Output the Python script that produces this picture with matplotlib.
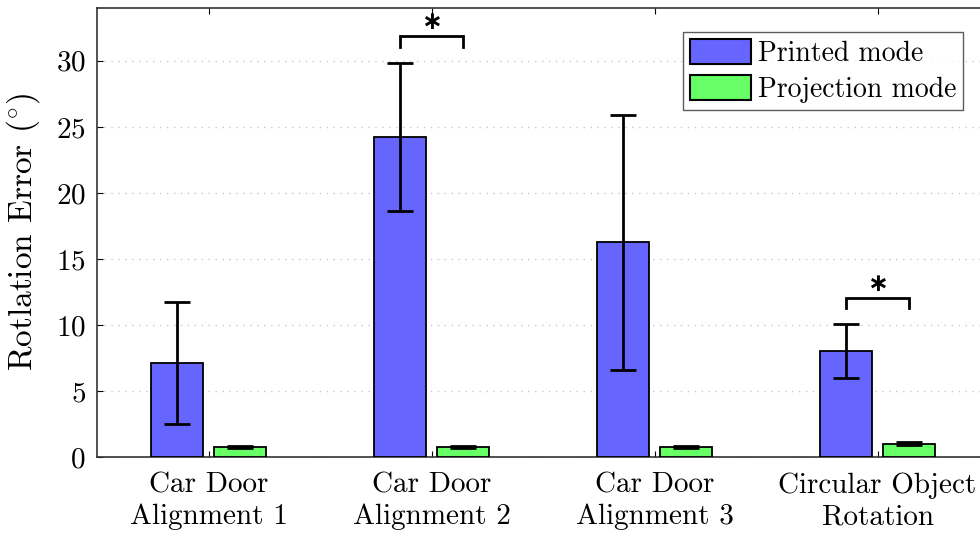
import matplotlib
matplotlib.use("Agg")
import matplotlib.pyplot as plt
import numpy as np

categories = ["Car Door\nAlignment 1", "Car Door\nAlignment 2", "Car Door\nAlignment 3", "Circular Object\nRotation"]
printed_mean = [7.1, 24.2, 16.25, 8.0]
printed_err = [4.6, 5.6, 9.65, 2.05]
projection_mean = [0.75, 0.75, 0.77, 1.02]
projection_err = [0.1, 0.08, 0.1, 0.1]
series_names = ["Printed mode", "Projection mode"]
# significance brackets: (group index, bracket height)
sig_groups = [1, 3]
sig_bracket_y = [31.85, 12.07]

plt.rcParams['font.family'] = ['cmr10', 'DejaVu Serif']
plt.rcParams['mathtext.fontset'] = 'cm'
plt.rcParams['axes.formatter.use_mathtext'] = True

fig = plt.figure(figsize=(9.8, 5.4), dpi=100)
ax = fig.add_axes([97/980, 83/540, 892/980, 449/540])

x = np.arange(1, len(categories) + 1)
w = 0.23
off = 0.141
ax.bar(x - off, printed_mean, w, color='#6666FF', edgecolor='black', linewidth=1.3, zorder=3, label=series_names[0])
ax.bar(x + off, projection_mean, w, color='#66FF66', edgecolor='black', linewidth=1.3, zorder=3, label=series_names[1])
ax.errorbar(x - off, printed_mean, yerr=printed_err, fmt='none', ecolor='black', elinewidth=2, capsize=9.5, capthick=2, zorder=4)
ax.errorbar(x + off, projection_mean, yerr=projection_err, fmt='none', ecolor='black', elinewidth=2, capsize=9.5, capthick=2, zorder=4)

for g, yb in zip(sig_groups, sig_bracket_y):
    xl = x[g] - off
    xr = x[g] + off
    ax.plot([xl, xl, xr, xr], [yb - 0.8, yb, yb, yb - 0.8], color='black', lw=2, zorder=5, solid_joinstyle='miter')
    ax.text(x[g], yb + 0.15, '\u2217', ha='center', va='bottom', fontsize=18, fontweight='bold',
            family='DejaVu Sans', color='black', zorder=5)

ax.set_xlim(0.5, 4.5)
ax.set_ylim(0, 34)
ax.set_yticks([0, 5, 10, 15, 20, 25, 30])
ax.set_xticks(x)
ax.set_xticklabels(categories, fontsize=21, linespacing=1.25)
ax.tick_params(axis='y', labelsize=21, direction='in', length=4, width=0.8, pad=8)
ax.tick_params(axis='x', direction='in', length=4, width=0.8, pad=11, top=True)
ax.set_ylabel('Rotlation Error ($^{\\circ}$)', fontsize=24, labelpad=10)
ax.yaxis.grid(True, linestyle=(0, (1, 4)), color='#c8c8c8', linewidth=1, zorder=0)
ax.set_axisbelow(True)
for s in ax.spines.values():
    s.set_linewidth(1.2)
    s.set_color('#333333')

leg = ax.legend(loc='upper right', bbox_to_anchor=((963 - 97) / 892, 1 - 24/449), fontsize=20,
                frameon=True, fancybox=False, edgecolor='#333333', handlelength=2.2, handleheight=1.0,
                borderpad=0.25, labelspacing=0.3, handletextpad=0.25, borderaxespad=0)
leg.get_frame().set_linewidth(1.0)
for h in leg.legend_handles:
    h.set_linewidth(1.5)

fig.savefig('out.png', dpi=100)
